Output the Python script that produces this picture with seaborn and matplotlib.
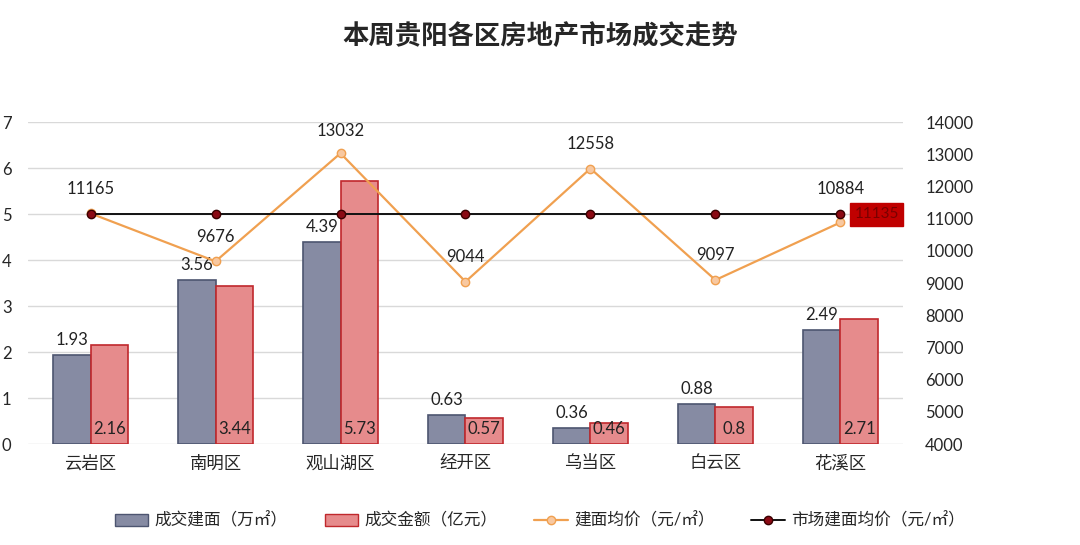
import seaborn as sns
import matplotlib.pyplot as plt
import pandas as pd
from matplotlib.patches import Patch

# data
districts = ['云岩区', '南明区', '观山湖区', '经开区', '乌当区', '白云区', '花溪区']
area = [1.93, 3.56, 4.39, 0.63, 0.36, 0.88, 2.49]        # 成交建面 万㎡
amount = [2.16, 3.44, 5.73, 0.57, 0.46, 0.8, 2.71]      # 成交金额 亿元
price = [11165, 9676, 13032, 9044, 12558, 9097, 10884]  # 建面均价
market_price = [11135] * 7                               # 市场建面均价

sns.set_theme(style="white")
plt.rcParams['font.family'] = ['Lato', 'Noto Sans CJK SC', 'DejaVu Sans']

df = pd.DataFrame({'区': districts * 2,
                   '值': area + amount,
                   '指标': ['成交建面（万㎡）'] * 7 + ['成交金额（亿元）'] * 7})

fig = plt.figure(figsize=(10.8, 5.45), dpi=100)
ax = fig.add_axes([0.026, 0.185, 0.81, 0.591])
sns.barplot(data=df, x='区', y='值', hue='指标', ax=ax, width=0.6, gap=0,
            palette=['#868ba3', '#e68b8c'], saturation=1, legend=False)
edges = ['#4d5570', '#c0282c']
for cont, ec in zip(ax.containers, edges):
    for b in cont:
        b.set_edgecolor(ec)
        b.set_linewidth(1.2)

# labels for the bars
for b, v in zip(ax.containers[0], area):
    ax.annotate(f'{v:g}', (b.get_x() + b.get_width() / 2, v), xytext=(0, 5),
                textcoords='offset points', ha='center', va='bottom', fontsize=12, color='#222222')
for b, v in zip(ax.containers[1], amount):
    ax.annotate(f'{v:g}', (b.get_x() + b.get_width() / 2, 0), xytext=(0, 5),
                textcoords='offset points', ha='center', va='bottom', fontsize=12, color='#222222')

ax.set_ylim(0, 7)
ax.set_xlim(-0.5, 6.5)
ax.set_yticks(range(8))
ax.grid(axis='y', color='#d9d9d9', linewidth=1)
ax.set_axisbelow(True)
ax.set_xlabel('')
ax.set_ylabel('')
ax.tick_params(axis='y', labelsize=12, pad=12, length=0)
ax.tick_params(axis='x', labelsize=12.5, pad=8, length=0)
for s in ax.spines.values():
    s.set_visible(False)

ax2 = ax.twinx()
ax2.plot(range(7), price, color='#f0a050', linewidth=1.6, marker='o', markersize=6,
         markerfacecolor='#f8c8a0', markeredgecolor='#f0a050', label='建面均价（元/㎡）', zorder=3)
ax2.plot(range(7), market_price, color='#111111', linewidth=1.4, marker='o', markersize=6,
         markerfacecolor='#8b0a14', markeredgecolor='#3a0000', label='市场建面均价（元/㎡）', zorder=4)
offsets = [12, 12, 10, 12, 12, 12, 18]
for i, p in enumerate(price):
    ax2.annotate(str(p), (i, p), xytext=(0, offsets[i]), textcoords='offset points',
                 ha='center', va='bottom', fontsize=12, color='#222222')
ax2.annotate(str(market_price[-1]), (6, market_price[-1]), xytext=(10, 0),
             textcoords='offset points', ha='left', va='center', fontsize=11, color='#7a0000',
             bbox=dict(boxstyle='square,pad=0.3', fc='#c00000', ec='#c00000'))
ax2.set_ylim(4000, 14000)
ax2.set_yticks(range(4000, 14001, 1000))
ax2.tick_params(axis='y', labelsize=12, pad=16, length=0)
ax2.grid(False)
for s in ax2.spines.values():
    s.set_visible(False)

fig.suptitle('本周贵阳各区房地产市场成交走势', x=0.5, y=0.96, fontsize=19, fontweight='bold')

handles = [Patch(fc='#868ba3', ec='#4d5570'), Patch(fc='#e68b8c', ec='#c0282c')] + ax2.get_legend_handles_labels()[0]
labels = ['成交建面（万㎡）', '成交金额（亿元）'] + ax2.get_legend_handles_labels()[1]
fig.legend(handles, labels, loc='center', bbox_to_anchor=(0.5, 0.045), ncol=4, frameon=False,
           fontsize=12, columnspacing=2.2, handlelength=2.0, handletextpad=0.4)

fig.savefig('out.png', dpi=100)
